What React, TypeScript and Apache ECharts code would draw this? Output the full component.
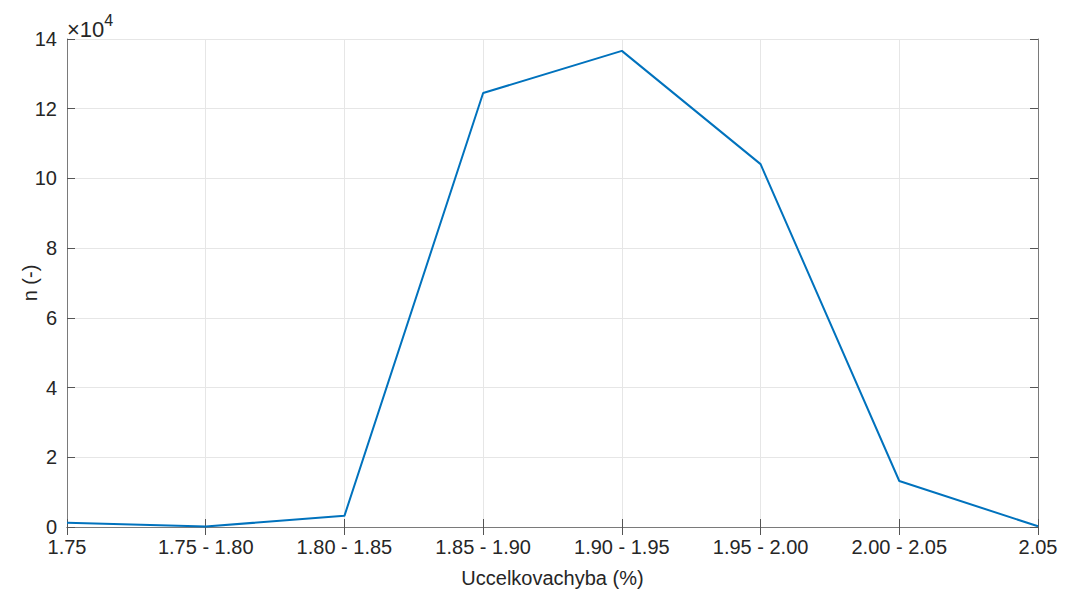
import React, { useEffect, useRef } from "react";
import * as echarts from "echarts";

const categories = ["1.75", "1.75 - 1.80", "1.80 - 1.85", "1.85 - 1.90", "1.90 - 1.95", "1.95 - 2.00", "2.00 - 2.05", "2.05"];
const counts = [1200, 150, 3200, 124500, 136600, 104100, 13200, 200];
const yTicks = [0, 2, 4, 6, 8, 10, 12, 14];
const yScale = 1e4;

export default function App() {
  const ref = useRef<HTMLDivElement>(null);
  useEffect(() => {
    const chart = echarts.init(ref.current!, null, { renderer: "svg" });
    const labelColor = "#262626";
    const font = "Liberation Sans, Arial, sans-serif";
    const fs = 20;
    chart.setOption({
      animation: false,
      backgroundColor: "#ffffff",
      grid: { left: 67, right: 32, top: 39, bottom: 65, containLabel: false, outerBoundsMode: "none" },
      xAxis: [
        {
          type: "category",
          data: categories,
          boundaryGap: false,
          name: "Uccelkovachyba (%)",
          nameLocation: "middle",
          nameGap: 41,
          nameTextStyle: { fontSize: fs, color: labelColor, fontFamily: font },
          axisLine: { lineStyle: { color: "#7a7a7a", width: 1 } },
          axisTick: { inside: true, length: 8, lineStyle: { color: "#555555" } },
          axisLabel: { fontSize: fs, color: labelColor, fontFamily: font, margin: 10 },
          splitLine: { show: true, lineStyle: { color: "#e6e6e6", width: 1 } },
        },
        {
          type: "category",
          data: categories,
          boundaryGap: false,
          position: "top",
          axisLine: { lineStyle: { color: "#7a7a7a", width: 1 } },
          axisTick: { inside: true, length: 8, lineStyle: { color: "#555555" } },
          axisLabel: { show: false },
          splitLine: { show: false },
        },
      ],
      yAxis: [
        {
          type: "value",
          min: 0,
          max: 14 * yScale,
          interval: 2 * yScale,
          name: "n (-)",
          nameLocation: "middle",
          nameGap: 27,
          nameMoveOverlap: false,
          nameRotate: 90,
          nameTextStyle: { fontSize: fs, color: labelColor, fontFamily: font },
          axisLine: { show: true, lineStyle: { color: "#7a7a7a", width: 1 } },
          axisTick: { show: true, inside: true, length: 8, lineStyle: { color: "#555555" } },
          axisLabel: {
            fontSize: fs,
            color: labelColor,
            fontFamily: font,
            margin: 10,
            formatter: (v: number) => {
              const t = v / yScale;
              return yTicks.includes(t) ? String(t) : "";
            },
          },
          splitLine: { show: true, lineStyle: { color: "#e6e6e6", width: 1 } },
        },
        {
          type: "value",
          min: 0,
          max: 14 * yScale,
          interval: 2 * yScale,
          position: "right",
          axisLine: { show: true, lineStyle: { color: "#7a7a7a", width: 1 } },
          axisTick: { show: true, inside: true, length: 8, lineStyle: { color: "#555555" } },
          axisLabel: { show: false },
          splitLine: { show: false },
        },
      ],
      graphic: [
        {
          type: "text",
          left: 67,
          top: 12,
          style: {
            text: "{a|×10}{b|4}",
            rich: {
              a: { fontSize: 22, fill: labelColor, fontFamily: font, verticalAlign: "bottom" },
              b: { fontSize: 16, fill: labelColor, fontFamily: font, verticalAlign: "top", padding: [0, 0, 12, 0] },
            },
          },
        },
      ],
      series: [
        {
          type: "line",
          data: counts,
          symbol: "none",
          lineStyle: { color: "#0072BD", width: 2 },
          itemStyle: { color: "#0072BD" },
        },
      ],
    });
    return () => chart.dispose();
  }, []);
  return <div ref={ref} style={{ position: "fixed", left: 0, top: 0, width: 1070, height: 592 }} />;
}
